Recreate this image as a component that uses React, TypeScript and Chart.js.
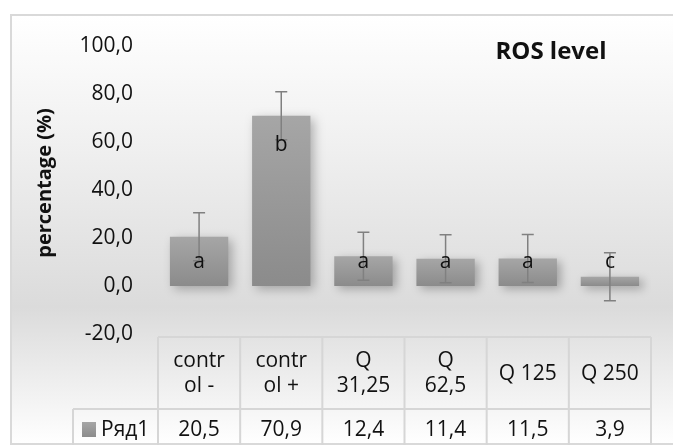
import React, { useEffect, useRef } from "react";
import { Chart, registerables } from "chart.js";

Chart.register(...registerables);

const categories: string[][] = [["contr", "ol -"], ["contr", "ol +"], ["Q", "31,25"], ["Q", "62,5"], ["Q 125"], ["Q 250"]];
const values = [20.5, 70.9, 12.4, 11.4, 11.5, 3.9];
const errors = [10, 10, 10, 10, 10, 10];
const letters = ["a", "b", "a", "a", "a", "c"];
const letterValues = [10, 58.7, 10, 10, 10, 10];
const yMin = -20;
const yMax = 100;
const yStep = 20;
const seriesName = "Ряд1";
const chartTitle = "ROS level";
const yTitle = "percentage (%)";

const fmt = (v: number) => v.toFixed(1).replace(".", ",");
const FONT = "'Open Sans', 'Noto Sans', sans-serif";

const decor = {
  id: "decor",
  beforeDraw(chart: any) {
    const ctx = chart.ctx as CanvasRenderingContext2D;
    const W = chart.width, H = chart.height;
    ctx.save();
    ctx.fillStyle = "#ffffff";
    ctx.fillRect(0, 0, W, H);
    const g = ctx.createLinearGradient(0, 15, 0, H);
    g.addColorStop(0, "#ffffff");
    g.addColorStop(0.3, "#f0f0f0");
    g.addColorStop(0.68, "#dbdbdb");
    g.addColorStop(1, "#ffffff");
    ctx.fillStyle = g;
    ctx.fillRect(11, 15, W - 11, H - 16);
    ctx.strokeStyle = "#d9d9d9";
    ctx.lineWidth = 2;
    ctx.strokeRect(11, 15, W + 10, H - 16);
    ctx.restore();
  },
  beforeDatasetsDraw(chart: any) {
    const ctx = chart.ctx as CanvasRenderingContext2D;
    ctx.save();
    ctx.shadowColor = "rgba(0,0,0,0.28)";
    ctx.shadowBlur = 10;
    ctx.shadowOffsetX = 4;
    ctx.shadowOffsetY = 3;
  },
  afterDatasetsDraw(chart: any) {
    const ctx = chart.ctx as CanvasRenderingContext2D;
    ctx.restore();
    const xs = chart.scales.x;
    const ys = chart.scales.y;
    const area = chart.chartArea;
    ctx.save();
    // error bars
    ctx.strokeStyle = "#808080";
    ctx.lineWidth = 1.5;
    values.forEach((v, i) => {
      const x = xs.getPixelForValue(i);
      const yt = ys.getPixelForValue(v + errors[i]);
      const yb = ys.getPixelForValue(v - errors[i]);
      ctx.beginPath();
      ctx.moveTo(x, yt);
      ctx.lineTo(x, yb);
      ctx.moveTo(x - 6, yt);
      ctx.lineTo(x + 6, yt);
      ctx.moveTo(x - 6, yb);
      ctx.lineTo(x + 6, yb);
      ctx.stroke();
    });
    // letters
    ctx.fillStyle = "#111111";
    ctx.font = `21px ${FONT}`;
    ctx.textAlign = "center";
    ctx.textBaseline = "middle";
    letters.forEach((l, i) => {
      ctx.fillText(l, xs.getPixelForValue(i), ys.getPixelForValue(letterValues[i]));
    });
    // title
    ctx.font = `bold 24px ${FONT}`;
    ctx.fillText(chartTitle, 551, 52);
    // y title
    ctx.save();
    ctx.translate(45, 183);
    ctx.rotate(-Math.PI / 2);
    ctx.font = `bold 20px ${FONT}`;
    ctx.fillText(yTitle, 0, 0);
    ctx.restore();
    // data table
    const half = (xs.getPixelForValue(1) - xs.getPixelForValue(0)) / 2;
    const t1 = area.bottom + 3;
    const t2 = area.bottom + 75;
    const bottom = chart.height;
    const left = xs.getPixelForValue(0) - half;
    const right = xs.getPixelForValue(values.length - 1) + half;
    const legendLeft = 73;
    ctx.strokeStyle = "#d6d6d6";
    ctx.lineWidth = 2;
    ctx.beginPath();
    ctx.moveTo(left, t1);
    ctx.lineTo(right, t1);
    ctx.moveTo(legendLeft, t2);
    ctx.lineTo(right, t2);
    for (let i = 0; i <= values.length; i++) {
      const x = left + i * 2 * half;
      ctx.moveTo(x, t1);
      ctx.lineTo(x, bottom);
    }
    ctx.moveTo(legendLeft, t2);
    ctx.lineTo(legendLeft, bottom);
    ctx.stroke();

    ctx.fillStyle = "#111111";
    ctx.font = `21px ${FONT}`;
    categories.forEach((lines, i) => {
      const x = xs.getPixelForValue(i);
      const mid = (t1 + t2) / 2 + 1;
      const lh = 25;
      lines.forEach((s, k) => {
        const y = mid + (k - (lines.length - 1) / 2) * lh;
        ctx.fillText(s, x, y);
      });
      ctx.fillText(fmt(values[i]), x, t2 + 21);
    });
    // legend key
    const kg = ctx.createLinearGradient(0, t2 + 13, 0, t2 + 28);
    kg.addColorStop(0, "#a6a6a6");
    kg.addColorStop(1, "#8c8c8c");
    ctx.fillStyle = kg;
    ctx.fillRect(82, t2 + 13, 14, 15);
    ctx.fillStyle = "#111111";
    ctx.textAlign = "left";
    ctx.fillText(seriesName, 101, t2 + 21);
    ctx.restore();
  },
};

export default function App() {
  const ref = useRef<HTMLCanvasElement | null>(null);
  useEffect(() => {
    if (!ref.current) return;
    const chart = new Chart(ref.current, {
      type: "bar",
      data: {
        labels: categories.map((c) => c.join(" ")),
        datasets: [
          {
            label: seriesName,
            data: values,
            backgroundColor: (c: any) => {
              const ch = c.chart;
              const ys = ch.scales?.y;
              if (!ys || c.type !== "data") return "#999999";
              const v = values[c.dataIndex];
              const top = ys.getPixelForValue(v);
              const bot = ys.getPixelForValue(0);
              if (!isFinite(top) || !isFinite(bot) || top === bot) return "#999999";
              const g = ch.ctx.createLinearGradient(0, top, 0, bot);
              g.addColorStop(0, "#a6a6a6");
              g.addColorStop(1, "#8b8b8b");
              return g;
            },
            borderWidth: 0,
            barPercentage: 0.71,
            categoryPercentage: 1,
          },
        ],
      },
      options: {
        responsive: false,
        animation: false,
        devicePixelRatio: 1,
        layout: { padding: { left: 0, right: 22, top: 46, bottom: 111 } },
        plugins: { legend: { display: false }, tooltip: { enabled: false }, title: { display: false } },
        scales: {
          x: { display: false },
          y: {
            min: yMin,
            max: yMax,
            afterFit: (s: any) => {
              s.width = 158;
            },
            grid: { display: false, drawTicks: false },
            border: { display: false },
            ticks: {
              stepSize: yStep,
              padding: 25,
              color: "#111111",
              font: { family: FONT, size: 21 },
              callback: (v: any) => fmt(Number(v)),
            },
          },
        },
      },
      plugins: [decor],
    });
    return () => chart.destroy();
  }, []);
  return (
    <div style={{ position: "fixed", left: 0, top: 0, width: 673, height: 445 }}>
      <canvas ref={ref} width={673} height={445} style={{ display: "block" }} />
    </div>
  );
}
